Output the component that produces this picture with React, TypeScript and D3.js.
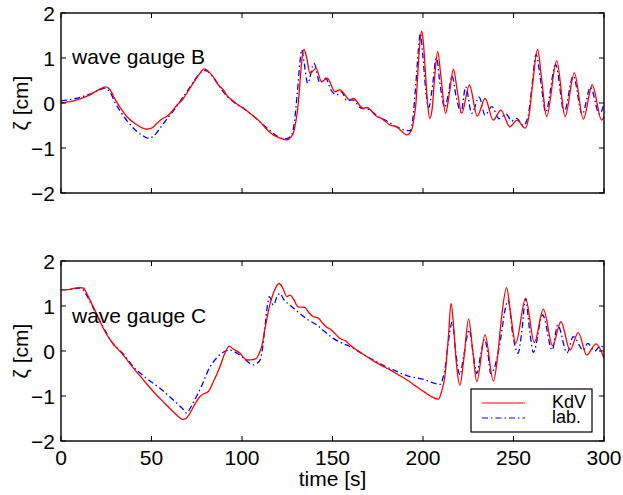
import React from "react";
import * as d3 from "d3";

const xTicks = [0, 50, 100, 150, 200, 250, 300];
const yTicks = [-2, -1, 0, 1, 2];
const panelLabels = ["wave gauge B", "wave gauge C"];
const legendLabels = ["KdV", "lab."];

const kdvB: [number, number][] = [
  [0, 0.0], [8, 0.06], [16, 0.18], [22, 0.32], [24.5, 0.36], [27, 0.3], [30, 0.07], [33, -0.12], [36.3, -0.3], [41, -0.46], [47, -0.58], [50, -0.56], [53, -0.45], [56, -0.35], [58.4, -0.3], [61, -0.2], [64, -0.05], [67.6, 0.1], [70, 0.25], [73, 0.44], [76, 0.62], [79.2, 0.76], [82, 0.68], [85, 0.53], [87, 0.4], [89.7, 0.29], [92, 0.15], [95, 0.05], [98, -0.05], [101, -0.12], [105, -0.25], [110, -0.42], [114, -0.6], [117.3, -0.71], [121, -0.78], [124.7, -0.82], [127, -0.76], [128.5, -0.65], [130, -0.35], [131.1, 0.0], [132.2, 0.55], [133.2, 1.0], [134.3, 1.19], [135.5, 1.05], [137.6, 0.66], [140.9, 0.77], [144, 0.47], [147.1, 0.55], [151.4, 0.25], [154, 0.29], [159.7, 0.07], [161.5, 0.1], [167, -0.12], [169, -0.1], [174.4, -0.3], [177, -0.34], [181.8, -0.49], [185.5, -0.53], [188, -0.62], [191, -0.71], [193.5, -0.62], [195, -0.35], [196.1, 0], [197.2, 0.7], [198.2, 1.3], [199.2, 1.6], [200.2, 1.35], [201.3, 0.7], [202.5, 0.0], [203.7, -0.34], [205, -0.15], [206.3, 0.5], [208.1, 1.14], [210, 0.55], [212.5, -0.23], [214.5, 0.2], [216.8, 0.75], [219, 0.25], [221.4, -0.23], [225.6, 0.4], [230, -0.29], [234.3, 0.1], [238.8, -0.38], [243, -0.16], [248, -0.53], [252, -0.38], [256.4, -0.56], [258.5, -0.3], [260.5, 0.4], [263.3, 1.19], [265.5, 0.55], [268.3, -0.3], [273.9, 0.94], [278.5, -0.3], [283.6, 0.67], [288.6, -0.36], [293.5, 0.4], [298.7, -0.38], [300, -0.3],
];

const labB: [number, number][] = [
  [0, 0.05], [8, 0.1], [16, 0.2], [22, 0.3], [24, 0.33], [27, 0.25], [30, 0.0], [33, -0.2], [37, -0.42], [41, -0.6], [45, -0.72], [48, -0.78], [51, -0.74], [54, -0.6], [58, -0.38], [62, -0.18], [66, 0.05], [70, 0.28], [74, 0.52], [78, 0.7], [80, 0.72], [83, 0.62], [86, 0.46], [89, 0.28], [92, 0.14], [96, 0.0], [100, -0.1], [105, -0.25], [110, -0.42], [115, -0.6], [120, -0.75], [124, -0.8], [127, -0.74], [129, -0.4], [130.5, 0.2], [132, 0.9], [133, 1.18], [134.3, 0.9], [136.3, 0.44], [139.8, 0.88], [143, 0.45], [146.3, 0.55], [149, 0.3], [152.3, 0.18], [155, 0.25], [158, 0.05], [161, 0.07], [166, -0.12], [170, -0.14], [175, -0.3], [180, -0.4], [185, -0.52], [190, -0.6], [193, -0.62], [194.5, -0.3], [196, 0.4], [197.5, 1.2], [198.5, 1.55], [199.8, 1.1], [201.5, 0.3], [203.2, -0.1], [205, 0.3], [207.4, 1.0], [209.5, 0.4], [212, -0.1], [214, 0.2], [216, 0.6], [218.5, 0.1], [221, -0.2], [223.6, 0.36], [226.9, -0.23], [231, 0.13], [234.3, -0.27], [238, -0.08], [242, -0.35], [246, -0.25], [249, -0.4], [251.7, -0.34], [255.5, -0.5], [258, -0.3], [260, 0.3], [262.5, 1.08], [265, 0.5], [267.8, -0.2], [273.3, 0.85], [278, -0.2], [283, 0.6], [288, -0.25], [292.5, 0.35], [297.5, -0.25], [300, 0.0],
];

const kdvC: [number, number][] = [
  [0, 1.36], [5, 1.37], [10, 1.41], [12.3, 1.4], [14, 1.3], [16, 1.13], [20, 0.8], [23.4, 0.5], [28, 0.2], [34.4, -0.09], [40, -0.38], [45.5, -0.64], [51, -0.9], [56.5, -1.13], [62, -1.35], [65, -1.46], [67.2, -1.52], [69, -1.5], [71, -1.4], [74, -1.18], [76.8, -1.01], [79, -0.95], [81.4, -0.9], [84, -0.7], [87.8, -0.35], [90.5, -0.05], [93, 0.11], [95, 0.05], [98.9, -0.05], [101, -0.15], [103, -0.2], [106, -0.19], [108.1, -0.16], [109.5, -0.05], [110.9, 0.1], [112.5, 0.45], [115.1, 0.98], [118, 1.35], [120.6, 1.5], [122.5, 1.4], [124.7, 1.21], [126.5, 1.24], [128.5, 1.15], [131.1, 0.98], [134.7, 0.97], [137, 0.85], [139.4, 0.76], [142.2, 0.73], [144.5, 0.62], [146.4, 0.54], [149, 0.48], [151.5, 0.38], [154.1, 0.28], [157.4, 0.22], [160, 0.12], [163.4, 0.02], [168, -0.1], [172.6, -0.22], [177, -0.32], [181.8, -0.42], [186, -0.52], [191, -0.64], [196, -0.78], [201.1, -0.92], [205, -1.02], [208.5, -1.07], [210.3, -0.9], [212.2, -0.53], [214, 0.3], [215.5, 1.06], [217, 0.5], [218.5, -0.3], [220.4, -0.76], [222.5, -0.2], [225.2, 0.71], [227.5, 0.0], [229.7, -0.68], [234.3, 0.36], [238.9, -0.67], [241, -0.2], [243, 0.6], [246.2, 1.41], [248.5, 0.8], [251.2, 0.17], [256.7, 1.17], [261.5, 0.19], [266.5, 0.93], [271.6, 0.12], [276.2, 0.65], [281.2, 0.02], [285.8, 0.41], [290.4, -0.09], [295.6, 0.16], [300, -0.16],
];

const labC: [number, number][] = [
  [0, 1.36], [5, 1.37], [10, 1.4], [12, 1.37], [14, 1.25], [16, 1.1], [20, 0.78], [24, 0.48], [28, 0.2], [34, -0.05], [40, -0.35], [47, -0.6], [54.7, -0.83], [61, -1.05], [65, -1.2], [67.6, -1.3], [69.4, -1.38], [71, -1.3], [73, -1.15], [75, -1.0], [78, -0.75], [82.3, -0.35], [85, -0.2], [88.8, -0.05], [91, 0.0], [93.4, 0.02], [96, -0.02], [98.9, -0.09], [102, -0.2], [106.3, -0.31], [108, -0.28], [110, -0.2], [111.5, 0.1], [112.7, 0.54], [114, 1.0], [115.1, 1.21], [117.3, 1.02], [119.5, 1.22], [121, 1.28], [123, 1.15], [126.5, 1.02], [130, 0.9], [133, 0.8], [137, 0.68], [141.3, 0.58], [146, 0.42], [150.4, 0.28], [155, 0.18], [159.7, 0.1], [166, -0.05], [172.6, -0.2], [178, -0.32], [183.6, -0.42], [188, -0.5], [192.8, -0.57], [197, -0.6], [201.1, -0.64], [205, -0.7], [209.4, -0.74], [211, -0.6], [212.2, -0.38], [214, 0.2], [216.2, 0.65], [218, 0.0], [220.4, -0.53], [222.5, -0.1], [225.6, 0.47], [227.5, 0.0], [229.7, -0.5], [232, -0.05], [234, 0.26], [236, -0.1], [237.4, -0.5], [240, -0.3], [243, 0.3], [245.5, 0.95], [247.1, 1.13], [249.5, 0.4], [252.5, -0.05], [254.5, 0.4], [256.7, 1.17], [258.8, 0.5], [261, -0.03], [266.1, 0.8], [271.4, 0.02], [274.4, 0.58], [279.6, -0.04], [283, 0.32], [288.6, 0.02], [291, 0.17], [295, 0.0], [298, 0.12], [300, 0.05],
];

const W = 623;
const H = 495;
const X0 = 61;
const X1 = 604;
const FONT = "'Liberation Sans', Arial, Helvetica, sans-serif";
const RED = "#ff0000";
const BLUE = "#0000ff";
const DASH = "6,3,1.5,3";
const FS = 21;

const x = d3.scaleLinear().domain([0, 300]).range([X0, X1]);

function Panel({ top, bottom, kdv, lab, label, labelY, id, showX }: any) {
  const y = d3.scaleLinear().domain([-2, 2]).range([bottom, top]);
  const line = d3
    .line<[number, number]>()
    .x((d) => x(d[0]))
    .y((d) => y(d[1]))
    .curve(d3.curveMonotoneX);
  const tk = 5;
  return (
    <g>
      <defs>
        <clipPath id={id}>
          <rect x={X0} y={top} width={X1 - X0} height={bottom - top} />
        </clipPath>
      </defs>
      <g clipPath={`url(#${id})`}>
        <path d={line(lab) || ""} fill="none" stroke={BLUE} strokeWidth={1.3} strokeDasharray={DASH} />
        <path d={line(kdv) || ""} fill="none" stroke={RED} strokeWidth={1.3} />
      </g>
      <rect x={X0} y={top} width={X1 - X0} height={bottom - top} fill="none" stroke="#000" strokeWidth={1.4} />
      {xTicks.map((t) => (
        <g key={"x" + t}>
          <line x1={x(t)} x2={x(t)} y1={bottom} y2={bottom - tk} stroke="#000" />
          <line x1={x(t)} x2={x(t)} y1={top} y2={top + tk} stroke="#000" />
          {showX && (
            <text x={x(t)} y={bottom + 24} textAnchor="middle" fontSize={FS} fontFamily={FONT}>
              {t}
            </text>
          )}
        </g>
      ))}
      {yTicks.map((v) => (
        <g key={"y" + v}>
          <line x1={X0} x2={X0 + tk} y1={y(v)} y2={y(v)} stroke="#000" />
          <line x1={X1} x2={X1 - tk} y1={y(v)} y2={y(v)} stroke="#000" />
          <text x={X0 - 6} y={y(v)} dy="0.36em" textAnchor="end" fontSize={FS} fontFamily={FONT}>
            {v < 0 ? "\u2212" + Math.abs(v) : v}
          </text>
        </g>
      ))}
      <text x={72} y={labelY} fontSize={FS} fontFamily={FONT}>
        {label}
      </text>
      <text
        transform={`translate(${28},${(top + bottom) / 2}) rotate(-90)`}
        textAnchor="middle"
        fontSize={FS}
        fontFamily={FONT}
      >
        ζ [cm]
      </text>
    </g>
  );
}

export default function App() {
  return (
    <svg
      width={W}
      height={H}
      style={{ position: "absolute", left: 0, top: 0, background: "#fff" }}
    >
      <rect width={W} height={H} fill="#fff" />
      <Panel top={13} bottom={193} kdv={kdvB} lab={labB} label={panelLabels[0]} labelY={64} id="clipB" showX={false} />
      <Panel top={261} bottom={441} kdv={kdvC} lab={labC} label={panelLabels[1]} labelY={323} id="clipC" showX={true} />
      <text x={(X0 + X1) / 2} y={486} textAnchor="middle" fontSize={FS} fontFamily={FONT}>
        time [s]
      </text>
      <g>
        <rect x={471} y={389} width={121} height={43} fill="#fff" stroke="#000" strokeWidth={1.2} />
        <line x1={482} x2={525} y1={403} y2={403} stroke={RED} strokeWidth={1.2} />
        <line x1={482} x2={525} y1={418} y2={418} stroke={BLUE} strokeWidth={1.2} strokeDasharray={DASH} />
        <text x={552} y={408} fontSize={18} fontFamily={FONT}>
          {legendLabels[0]}
        </text>
        <text x={552} y={423} fontSize={18} fontFamily={FONT}>
          {legendLabels[1]}
        </text>
      </g>
    </svg>
  );
}
